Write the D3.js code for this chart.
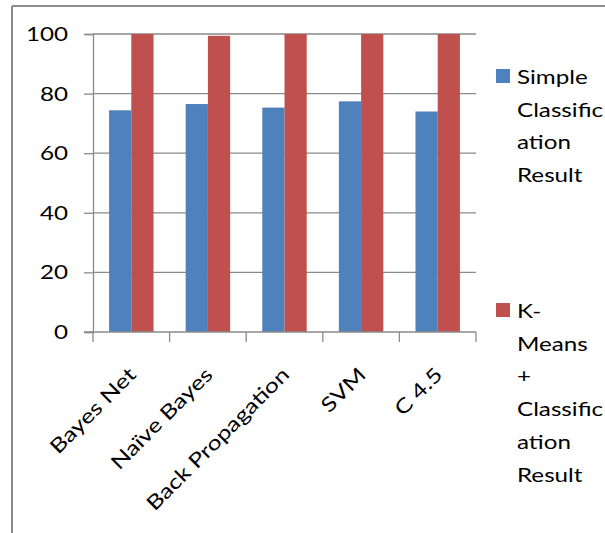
<!DOCTYPE html>
<html>
<head>
<meta charset="utf-8">
<script src="https://cdn.jsdelivr.net/npm/d3@7"></script>
<style>
  html, body { margin: 0; padding: 0; background: #fff; }
  svg { display: block; }
  text { font-family: Lato, "Open Sans", sans-serif; fill: #000; }
</style>
</head>
<body>
<script>
// Classifier accuracy, with and without K-Means pre-clustering
const categories = ["Bayes Net", "Naïve Bayes", "Back Propagation", "SVM", "C 4.5"];
const simpleResult = [74.4, 76.5, 75.3, 77.4, 74.0];
const kmeansResult = [100, 99.4, 100, 100, 100];
const seriesNames = ["Simple Classification Result", "K-Means + Classification Result"];
const legendLines = [
  ["Simple", "Classific", "ation", "Result"],
  ["K-", "Means", "+", "Classific", "ation", "Result"]
];
const yTicks = [0, 20, 40, 60, 80, 100];
const colors = ["#4F81BD", "#C0504D"];

const W = 605, H = 533;
const FONT = 20;
const STRETCH = 1.21;      // glyphs are drawn a little wide
const LABEL_STRETCH = 1.25; // widening along the slanted category labels
const svg = d3.select("body").append("svg").attr("width", W).attr("height", H);

// outer chart frame (top and left edges visible)
svg.append("line").attr("x1", 12).attr("x2", W).attr("y1", 6).attr("y2", 6)
  .attr("stroke", "#8c8c8c").attr("stroke-width", 2);
svg.append("line").attr("x1", 12).attr("x2", 12).attr("y1", 6).attr("y2", H)
  .attr("stroke", "#8c8c8c").attr("stroke-width", 2);

const plot = { left: 93, right: 476, top: 34, bottom: 332 };

const x = d3.scaleBand().domain(categories).range([plot.left, plot.right]).paddingInner(0).paddingOuter(0);
const y = d3.scaleLinear().domain([0, 100]).range([plot.bottom, plot.top]);

const grid = "#8a8a8a";

// horizontal gridlines
svg.append("g").selectAll("line").data(yTicks.filter(d => d > 0)).join("line")
  .attr("x1", plot.left).attr("x2", plot.right)
  .attr("y1", d => y(d)).attr("y2", d => y(d))
  .attr("stroke", grid).attr("stroke-width", 1.3);

// bars
const groupW = x.bandwidth() * 0.58;
const sub = d3.scaleBand().domain([0, 1]).range([0, groupW]);
const series = [simpleResult, kmeansResult];
series.forEach((vals, si) => {
  svg.append("g").selectAll("rect").data(vals).join("rect")
    .attr("x", (d, i) => x(categories[i]) + (x.bandwidth() - groupW) / 2 + sub(si))
    .attr("width", sub.bandwidth())
    .attr("y", d => y(d))
    .attr("height", d => y(0) - y(d))
    .attr("fill", colors[si]);
});

// y axis
const yAxis = svg.append("g").attr("transform", `translate(${plot.left},0)`)
  .call(d3.axisLeft(y).tickValues(yTicks).tickSize(9));
yAxis.select(".domain").attr("stroke", grid).attr("stroke-width", 1.3);
yAxis.selectAll(".tick line").attr("stroke", grid).attr("stroke-width", 1.3);
yAxis.selectAll(".tick text")
  .attr("x", 0)
  .attr("transform", `translate(-25,0) scale(${STRETCH},1)`)
  .attr("font-size", FONT).attr("font-family", "Lato, sans-serif").attr("fill", "#000");

// x axis
const xAxis = svg.append("g").attr("transform", `translate(0,${plot.bottom})`);
xAxis.append("line").attr("x1", plot.left - 9).attr("x2", plot.right)
  .attr("stroke", grid).attr("stroke-width", 1.3);
const edges = categories.map(c => x(c)).concat([plot.right]);
xAxis.selectAll("line.tk").data(edges).join("line").attr("class", "tk")
  .attr("x1", d => d).attr("x2", d => d).attr("y1", 0).attr("y2", 10)
  .attr("stroke", grid).attr("stroke-width", 1.3);

// slanted category labels
svg.append("g").selectAll("text").data(categories).join("text")
  .attr("transform", d => `translate(${x(d) + x.bandwidth() / 2 + 6},${plot.bottom + 44}) rotate(-45) scale(${LABEL_STRETCH},1)`)
  .attr("text-anchor", "end")
  .attr("font-size", FONT)
  .text(d => d);

// legend
const legendTop = [76, 310];
legendLines.forEach((lines, si) => {
  const g = svg.append("g");
  g.append("rect").attr("x", 496).attr("y", legendTop[si] - 7).attr("width", 14).attr("height", 14)
    .attr("fill", colors[si]);
  g.append("text").attr("transform", `translate(517,${legendTop[si]}) scale(${STRETCH},1)`)
    .attr("font-size", FONT)
    .attr("dominant-baseline", "central")
    .selectAll("tspan").data(lines).join("tspan")
    .attr("x", 0).attr("dy", (d, i) => i === 0 ? 0 : 32.7)
    .text(d => d);
});
</script>
</body>
</html>
